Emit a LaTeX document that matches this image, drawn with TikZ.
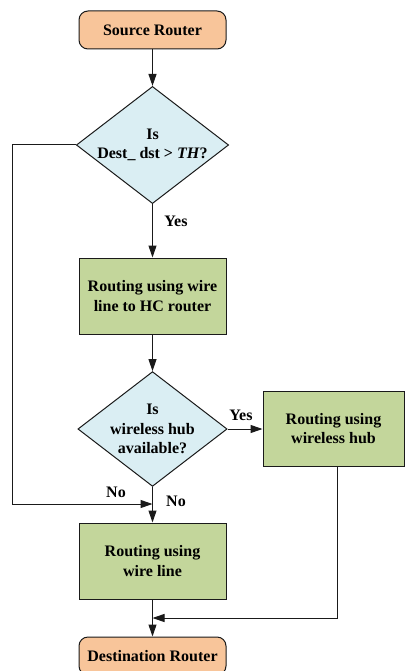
\documentclass[tikz,border=0pt]{standalone}
\usepackage{fontspec}
\setmainfont{Liberation Serif}
\usetikzlibrary{shapes.geometric,arrows.meta}
\definecolor{termfill}{HTML}{F8C59A}
\definecolor{decfill}{HTML}{DAEEF3}
\definecolor{procfill}{HTML}{C3D69B}
\definecolor{linecol}{HTML}{1A1A1A}
\begin{document}
\begin{tikzpicture}[x=1pt,y=-1pt,
  every node/.style={font=\fontsize{16}{19.5}\selectfont\bfseries, text=black},
  term/.style={draw=linecol, line width=1pt, fill=termfill, rounded corners=9pt, minimum width=147pt, minimum height=38pt, inner sep=0pt},
  proc/.style={draw=linecol, line width=1pt, fill=procfill, minimum width=147pt, minimum height=76pt, align=center, inner sep=0pt},
  dec/.style={diamond, draw=linecol, line width=1pt, fill=decfill, minimum width=147pt, minimum height=113pt, aspect=1.3, inner sep=0pt, align=center},
  conn/.style={draw=linecol, line width=1pt, -{Triangle[length=12pt,width=8pt]}}]
\useasboundingbox (0,0) rectangle (405,671);
\node[term] (src) at (152.5,30) {Source Router};
\node[dec] (d1) at (152.5,145) {Is\\Dest\_ dst > \textit{TH}?};
\node[proc] (box1) at (152.5,296) {Routing using wire\\line to HC router};
\node[dec] (d2) at (152.5,429) {Is\\wireless hub\\available?};
\node[proc, minimum width=141pt, minimum height=75pt] (hub) at (333.5,428.5) {Routing using\\wireless hub};
\node[proc] (box3) at (152.5,561) {Routing using\\wire line};
\node[term] (dest) at (152.5,656) {Destination Router};
\coordinate (j1) at (152.5,504);
\coordinate (j2) at (152.5,618);
\coordinate (lx) at (12,145);
\coordinate (hx) at (337,466);
\node (yes1) at (176,221) {Yes};
\node (yes2) at (241,415) {Yes};
\node (no1) at (116,492) {No};
\node (no2) at (176,501) {No};
\draw[conn] (src) -- (d1);
\draw[conn] (d1) -- (box1);
\draw[conn] (box1) -- (d2);
\draw[conn] (d2.east) -- (d2.east -| hub.west);
\draw[conn] (d2) -- (box3);
\draw[conn] (d1.west) -- (lx) |- (j1);
\draw[conn] (hx) |- (j2);
\draw[conn] (box3) -- (dest);
\end{tikzpicture}
\end{document}
